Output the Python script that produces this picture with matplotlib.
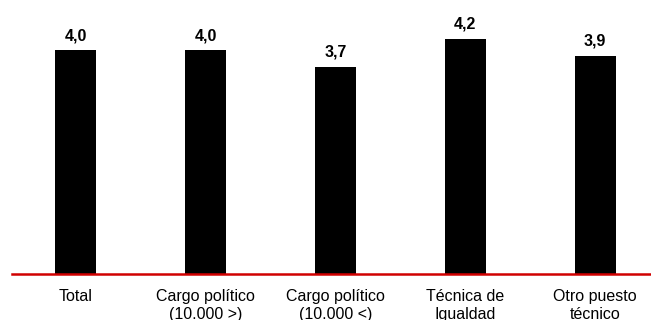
import matplotlib.pyplot as plt

categories = ["Total", "Cargo político\n(10.000 >)", "Cargo político\n(10.000 <)",
              "Técnica de\nIgualdad", "Otro puesto\ntécnico"]
values = [4.0, 4.0, 3.7, 4.2, 3.9]

plt.rcParams['font.family'] = ['Liberation Sans', 'DejaVu Sans']

fig = plt.figure(figsize=(6.51, 3.2), dpi=100)
ax = fig.add_axes([12 / 651, 46 / 320, 639 / 651, 274 / 320])

x = range(len(values))
bars = ax.bar(x, values, width=0.315, color="black")

# value labels above each bar, comma as decimal sign
for xi, v in zip(x, values):
    ax.annotate(("%.1f" % v).replace(".", ","), (xi, v), xytext=(0, 5),
                textcoords="offset points", ha="center", va="bottom",
                fontsize=11.5, fontweight="bold")

ax.set_xlim(-0.49, 4.43)
ax.set_ylim(0, 274 / 56)
ax.set_xticks(list(x))
ax.set_xticklabels(categories, fontsize=11.5, linespacing=1.2)
ax.tick_params(axis="x", length=0, pad=11)
ax.set_yticks([])

for side in ["top", "right", "left"]:
    ax.spines[side].set_visible(False)
ax.spines["bottom"].set_color("#d00000")
ax.spines["bottom"].set_linewidth(1.8)

fig.savefig("out.png", dpi=100)
